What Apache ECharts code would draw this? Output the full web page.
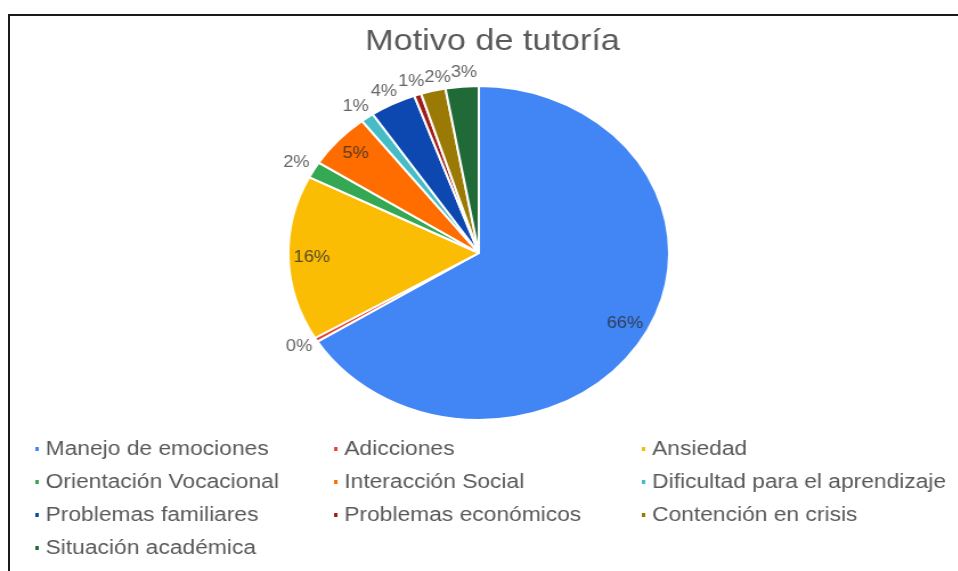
<!DOCTYPE html>
<html lang="es">
<head>
    <meta charset="UTF-8">
    <title>Motivo de tutoría</title>
    <script src="https://cdn.jsdelivr.net/npm/echarts@6/dist/echarts.min.js"></script>
    <style>
        html, body { margin: 0; padding: 0; background: #ffffff; overflow: hidden; }
        #frame { position: absolute; left: 8px; top: 14px; width: 960px; height: 570px;
                 border-top: 2px solid #1a1a1a; border-left: 2px solid #1a1a1a; }
        /* the source picture is stretched sideways, so the chart is too */
        #main { position: absolute; left: 0; top: 0; width: 840px; height: 571px;
                transform: scaleX(1.14); transform-origin: 0 0; }
    </style>
</head>
<body>
    <div id="frame"></div>
    <div id="main"></div>
    <script>
        // datos (porcentaje de casos)
        const categories = ['Manejo de emociones', 'Adicciones', 'Ansiedad', 'Orientación Vocacional',
            'Interacción Social', 'Dificultad para el aprendizaje', 'Problemas familiares',
            'Problemas económicos', 'Contención en crisis', 'Situación académica'];
        const values = [66.1, 0.4, 16.0, 1.6, 5.4, 1.1, 3.9, 0.6, 2.1, 2.8];
        const colors = ['#4285f4', '#ea4335', '#fbbc04', '#34a853', '#ff6d01',
            '#46bdc6', '#0d47b0', '#a01c18', '#9a7a05', '#1f6a37'];

        const font = 'Liberation Sans, Arial, sans-serif';
        const chart = echarts.init(document.getElementById('main'));

        const slices = categories.map((name, i) => ({ name: name, value: values[i] }));
        const labelItems = categories.map((name, i) => {
            const inside = values[i] >= 5;
            return {
                name: name,
                value: values[i],
                label: inside
                    ? { position: 'inside', color: 'rgba(45,45,45,0.8)' }
                    : { position: 'outside', padding: [0, 4] }
            };
        });

        // tres columnas de leyenda, orden por filas
        const legendCols = [0, 1, 2].map(c => categories.filter((n, i) => i % 3 === c));
        const legendLeft = [29, 291, 561];

        // etiqueta externa: la caja toca el punto final de la guia, del lado del pastel;
        // las de arriba se separan en horizontal si se tocan
        function outsideLayout(p) {
            if (values[p.dataIndex] >= 5 || !p.labelLinePoints) return {};
            const a = p.labelLinePoints[0], b = p.labelLinePoints[1];
            const dx = b[0] - a[0], dy = b[1] - a[1];
            const len = Math.sqrt(dx * dx + dy * dy) || 1;
            const w = p.labelRect.width, h = p.labelRect.height;
            const res = {
                x: b[0] + dx / len * w / 2,
                y: b[1] + dy / len * h / 2,
                align: 'center',
                verticalAlign: 'middle'
            };
            if (dy / len < -0.75) res.moveOverlap = 'shiftX';
            return res;
        }

        const option = {
            color: colors,
            animation: false,
            title: {
                text: 'Motivo de tutoría',
                left: 427,
                textAlign: 'center',
                top: 22,
                textStyle: { fontFamily: font, fontSize: 30, fontWeight: 'normal', color: '#595959' }
            },
            legend: legendCols.map((col, c) => ({
                data: col,
                orient: 'vertical',
                left: legendLeft[c],
                top: 439,
                padding: 0,
                icon: 'rect',
                itemWidth: 5,
                itemHeight: 6,
                itemGap: 13,
                selectedMode: false,
                textStyle: { fontFamily: font, fontSize: 20, color: '#595959' }
            })),
            series: [
                {
                    type: 'pie',
                    center: [420, 253],
                    radius: [0, 167],
                    startAngle: 90,
                    clockwise: true,
                    data: slices,
                    label: { show: false },
                    labelLine: { show: false },
                    itemStyle: { borderColor: '#ffffff', borderWidth: 2 },
                    emphasis: { disabled: true }
                },
                {
                    // capa solo para etiquetas
                    type: 'pie',
                    center: [420, 253],
                    radius: [120, 167],
                    startAngle: 90,
                    clockwise: true,
                    silent: true,
                    avoidLabelOverlap: false,
                    data: labelItems,
                    itemStyle: { color: 'rgba(0,0,0,0)', borderWidth: 0 },
                    label: {
                        show: true,
                        fontFamily: font,
                        fontSize: 16,
                        color: '#666666',
                        formatter: p => Math.round(p.percent) + '%'
                    },
                    labelLine: { show: false, length: 6, length2: 0 },
                    labelLayout: outsideLayout,
                    emphasis: { disabled: true }
                }
            ]
        };

        chart.setOption(option);
    </script>
</body>
</html>
